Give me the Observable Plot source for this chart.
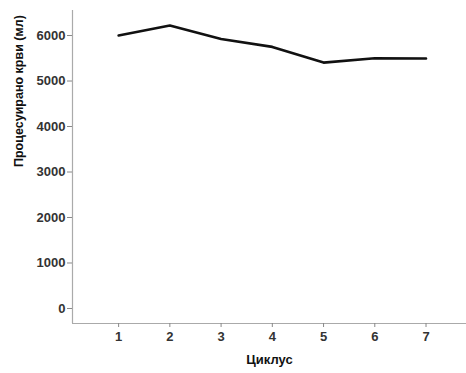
<!DOCTYPE html>
<html>
<head>
<meta charset="utf-8">
<script src="https://cdn.jsdelivr.net/npm/d3@7"></script>
<script src="https://cdn.jsdelivr.net/npm/@observablehq/plot@0.6"></script>
<style>
  body { margin: 0; background: #fff; }
  #chart svg { display: block; }
</style>
</head>
<body>
<div id="chart"></div>
<script>
const cycles = [1, 2, 3, 4, 5, 6, 7];
const bloodProcessed = [6000, 6220, 5925, 5750, 5405, 5500, 5495];
const yTicks = [0, 1000, 2000, 3000, 4000, 5000, 6000];
const xLabel = "Циклус";
const yLabel = "Процесуирано крви (мл)";

const data = cycles.map((c, i) => ({cycle: c, value: bloodProcessed[i]}));

const chart = Plot.plot({
  width: 466,
  height: 373,
  marginLeft: 72,
  marginRight: 0,
  marginTop: 10,
  marginBottom: 50,
  style: {fontFamily: "Liberation Sans, Arial, sans-serif", background: "#fff"},
  x: {domain: [0.1, 7.79]},
  y: {domain: [-330, 6550]},
  marks: [
    Plot.ruleX([0.1], {stroke: "#aaa", strokeWidth: 1.2}),
    Plot.ruleY([-330], {stroke: "#aaa", strokeWidth: 1.2}),
    Plot.axisX(cycles, {
      tickSize: 4, tickPadding: 4, stroke: "#888",
      fill: "#333", fontSize: 13, fontWeight: "bold",
      tickFormat: d3.format("d"),
      label: null
    }),
    Plot.axisY(yTicks, {
      tickSize: 5, tickPadding: 2, stroke: "#888",
      fill: "#333", fontSize: 13, fontWeight: "bold",
      tickFormat: d3.format("d"),
      label: null
    }),
    Plot.text([xLabel], {
      frameAnchor: "bottom", dy: 40, fontSize: 13, fontWeight: "bold", fill: "#111"
    }),
    Plot.text([yLabel], {
      frameAnchor: "left", dx: -54, rotate: -90, fontSize: 12.5, fontWeight: "bold", fill: "#111"
    }),
    Plot.line(data, {x: "cycle", y: "value", stroke: "#111", strokeWidth: 2.6})
  ]
});
document.getElementById("chart").appendChild(chart);
</script>
</body>
</html>
